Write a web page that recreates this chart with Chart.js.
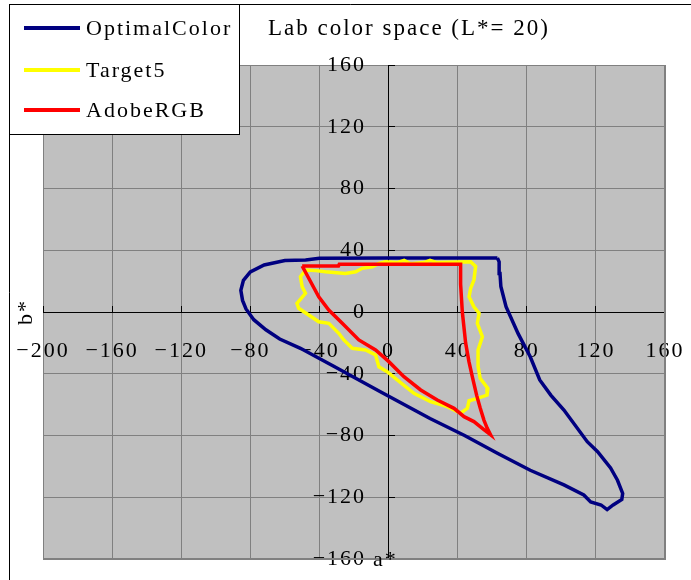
<!DOCTYPE html>
<html>
<head>
<meta charset="utf-8">
<script src="https://cdn.jsdelivr.net/npm/chart.js@4/dist/chart.umd.min.js"></script>
<style>
  html, body { margin: 0; padding: 0; background: #ffffff; }
  #wrap { width: 691px; height: 580px; position: relative; }
</style>
</head>
<body>
<div id="wrap"><canvas id="c" width="691" height="580"></canvas></div>
<script>
// ---- data (a*, b* coordinates) ----
const chartTitle = 'Lab color space (L*= 20)';
const seriesNames = ['OptimalColor', 'Target5', 'AdobeRGB'];
const xAxisTitle = 'a*';
const yAxisTitle = 'b*';
const xTickValues = [-200, -160, -120, -80, -40, 0, 40, 80, 120, 160];
const yTickValues = [-160, -120, -80, -40, 0, 40, 80, 120, 160];

const optimalA = [63, 30, 0, -40, -48, -60, -72, -80, -84, -85.5, -84.5, -82.5, -78, -71, -63, -51, -32, -5, 24, 44, 63, 82, 101.5, 113, 117, 123, 126.5, 130, 135, 135.5, 132.5, 128.5, 121, 115, 101.5, 94, 87.5, 82, 75, 68, 65, 64.5, 64, 63];
const optimalB = [35, 35, 35, 34.8, 33.7, 33.4, 30.5, 26, 20.5, 14, 7.5, 2, -5, -11.5, -17.5, -23.5, -35, -51.5, -69, -80, -91.5, -102.5, -112, -118.5, -123, -125, -128, -125, -121.5, -117.5, -109, -101, -90.5, -84, -63.5, -54, -44, -29, -14, 3.5, 16.5, 25, 32.5, 35];

const target5A = [-48, -42, -36.5, -25, -19, -15.3, -9.4, -5.6, -1.7, 5, 9, 12.8, 20.5, 24, 28, 40, 47.5, 50.4, 49.4, 47.5, 46.6, 49.4, 52.4, 51.4, 54.3, 51.8, 51.8, 53, 57.5, 57, 51.4, 46.6, 45.6, 41.7, 34, 24.3, 14.7, 5, -0.8, -5.6, -7.5, -13.3, -21, -25.9, -28.8, -34.6, -40.4, -46.2, -52, -53, -48.1, -50, -51, -48];
const target5B = [27.2, 26.8, 26.1, 25, 26.1, 28.3, 29.3, 31.5, 32.6, 32, 33.5, 31.2, 32, 33.5, 32, 32.4, 32.6, 29.5, 20.7, 15.3, 9.9, 3.4, -0.8, -7.3, -16, -24.6, -35, -43, -49.5, -53.8, -56, -57.5, -62.4, -65.6, -61.3, -58.1, -52.7, -44, -38.7, -35.5, -27.8, -24.6, -23.5, -18.1, -13.8, -7.3, -6.3, -1.9, 2.4, 5.6, 12.1, 16.4, 22.9, 27.2];

const adobeA = [-50, -29, -28.5, 41.7, 41.7, 42.7, 44.6, 46.5, 48.5, 51, 53, 55.2, 57, 59, 55, 49.4, 43.7, 37.9, 28.2, 18.6, 8.9, 0, -7.5, -17.2, -26.8, -34.6, -40.4, -50];
const adobeB = [29.8, 29.8, 31, 31, 18, 0, -20, -32, -42, -54, -62, -70, -75, -79.5, -76, -71, -67.8, -62.4, -57, -50.5, -41.9, -32, -24.6, -18.1, -7.3, 1.3, 9.9, 29.8];

const seriesColors = ['#000080', '#FFFF00', '#FF0000'];

function pts(a, b) { return a.map((v, i) => ({ x: v, y: b[i] })); }
function fmt(v) { return v < 0 ? '\u2212' + Math.abs(v) : String(v); }

const FONT = '"Liberation Serif", "Times New Roman", serif';
Chart.defaults.font.family = FONT;
Chart.defaults.color = '#000000';

function noPad(s) { s.paddingLeft = 0; s.paddingRight = 0; s.paddingTop = 0; s.paddingBottom = 0; }

const decor = {
  id: 'decor',
  beforeDraw(chart) {
    const { ctx, chartArea: ca } = chart;
    try { ctx.letterSpacing = '2px'; } catch (e) {}
    ctx.save();
    ctx.fillStyle = '#ffffff';
    ctx.fillRect(0, 0, chart.width, chart.height);
    ctx.fillStyle = '#C0C0C0';
    ctx.fillRect(ca.left, ca.top, ca.right - ca.left, ca.bottom - ca.top);
    ctx.restore();
  },
  afterDraw(chart) {
    const { ctx, chartArea: ca } = chart;
    ctx.save();
    // plot area border
    ctx.strokeStyle = '#808080';
    ctx.lineWidth = 2;
    ctx.beginPath();
    ctx.moveTo(ca.right, ca.top); ctx.lineTo(ca.right, ca.bottom); ctx.lineTo(ca.left, ca.bottom);
    ctx.stroke();
    // outer frame
    ctx.strokeStyle = '#000000';
    ctx.lineWidth = 1;
    ctx.beginPath();
    ctx.moveTo(9.5, chart.height); ctx.lineTo(9.5, 4.5); ctx.lineTo(chart.width, 4.5);
    ctx.stroke();
    // legend box
    ctx.fillStyle = '#ffffff';
    ctx.fillRect(9.5, 4.5, 230, 130);
    ctx.strokeRect(9.5, 4.5, 230, 130);
    const rows = [28, 70, 110];
    ctx.font = '22px ' + FONT;
    ctx.textBaseline = 'middle';
    ctx.textAlign = 'left';
    try { ctx.letterSpacing = '2px'; } catch (e) {}
    chart.data.datasets.forEach((ds, i) => {
      ctx.strokeStyle = ds.borderColor;
      ctx.lineWidth = 4;
      ctx.beginPath();
      ctx.moveTo(24, rows[i]); ctx.lineTo(80, rows[i]);
      ctx.stroke();
      ctx.fillStyle = '#000000';
      ctx.fillText(ds.label, 86, rows[i] + 1);
    });
    // title
    ctx.font = '23px ' + FONT;
    try { ctx.letterSpacing = '2px'; } catch (e) {}
    ctx.fillText(chartTitle, 268, 29);
    // axis titles
    ctx.font = '22px ' + FONT;
    ctx.fillText(xAxisTitle, 373, 560);
    ctx.translate(26, 312);
    ctx.rotate(-Math.PI / 2);
    ctx.textAlign = 'center';
    ctx.fillText(yAxisTitle, 0, 0);
    ctx.restore();
  }
};

new Chart(document.getElementById('c'), {
  type: 'scatter',
  data: {
    datasets: [
      { label: seriesNames[0], data: pts(optimalA, optimalB), borderColor: seriesColors[0], order: 3 },
      { label: seriesNames[1], data: pts(target5A, target5B), borderColor: seriesColors[1], order: 2 },
      { label: seriesNames[2], data: pts(adobeA, adobeB), borderColor: seriesColors[2], order: 1 }
    ].map(d => Object.assign(d, { showLine: true, pointRadius: 0, borderWidth: 3.5, fill: false, tension: 0, backgroundColor: d.borderColor }))
  },
  options: {
    responsive: false,
    animation: false,
    devicePixelRatio: 1,
    layout: { padding: { left: 43, right: 26, top: 65, bottom: 21 } },
    plugins: { legend: { display: false }, title: { display: false }, tooltip: { enabled: false } },
    scales: {
      x: {
        type: 'linear', min: -200, max: 160,
        position: { y: 0 },
        afterFit(s) { s.height = 0; noPad(s); },
        afterBuildTicks(s) { s.ticks = xTickValues.map(v => ({ value: v })); },
        ticks: { autoSkip: false, maxRotation: 0, minRotation: 0, padding: 33, font: { size: 22 }, color: '#000', callback: fmt },
        grid: { color: '#808080', lineWidth: 1, tickLength: -7, tickColor: '#000' },
        border: { color: '#000', width: 1 }
      },
      y: {
        type: 'linear', min: -160, max: 160,
        position: { x: 0 },
        afterFit(s) { s.width = 0; noPad(s); },
        afterBuildTicks(s) { s.ticks = yTickValues.map(v => ({ value: v })); },
        ticks: { autoSkip: false, padding: 0, font: { size: 22 }, color: '#000', callback: v => fmt(v) + '   ' },
        grid: { color: '#808080', lineWidth: 1, tickLength: -7, tickColor: '#000' },
        border: { color: '#000', width: 1 }
      }
    }
  },
  plugins: [decor]
});
</script>
</body>
</html>
